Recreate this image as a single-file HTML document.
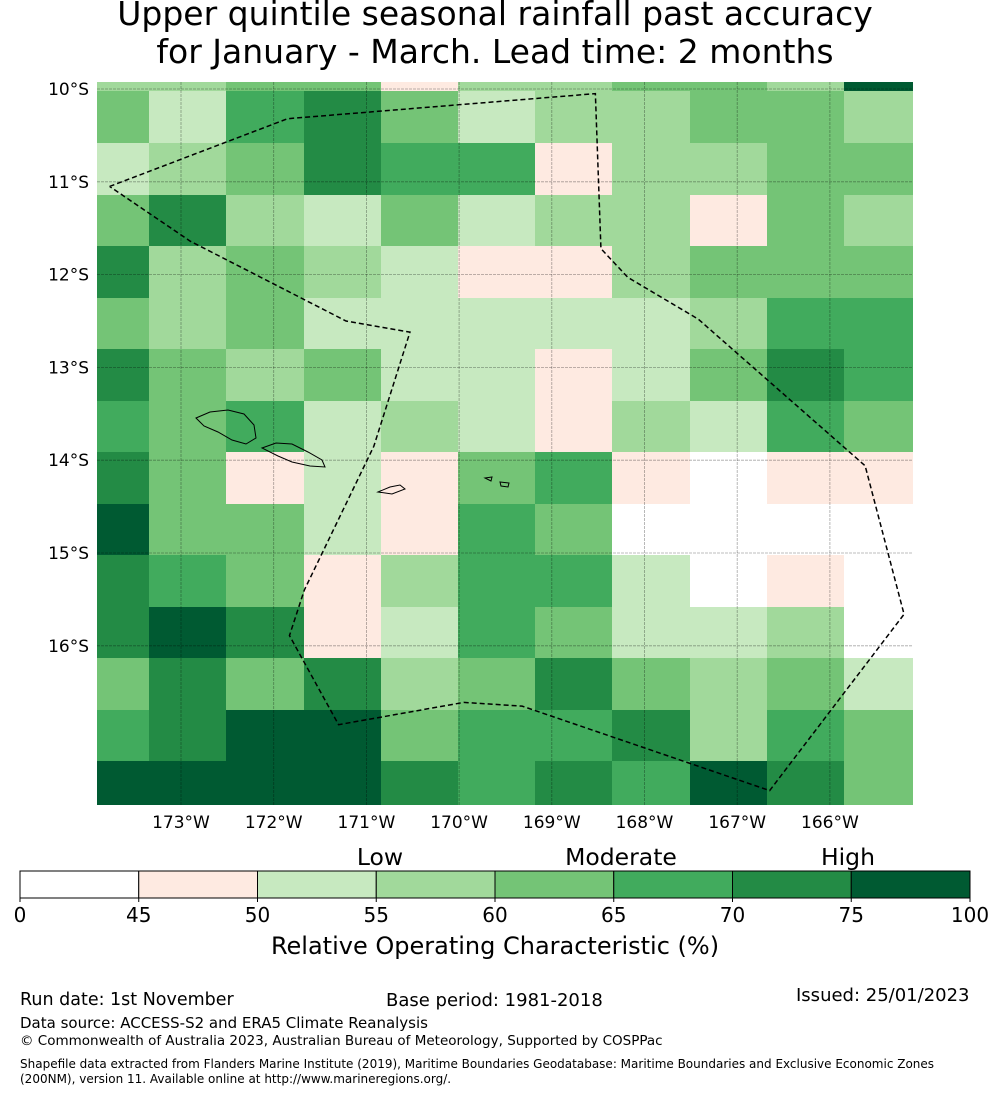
<!DOCTYPE html>
<html><head><meta charset="utf-8"><style>
body{margin:0;background:#fff;font-family:"DejaVu Sans","Liberation Sans",sans-serif;}
#wrap{position:relative;width:990px;height:1095px;overflow:hidden}
.t{position:absolute;white-space:nowrap;color:#000}
</style></head><body><div id="wrap">
<div class="t" style="left:0;width:990px;top:-5px;text-align:center;font-size:33px;line-height:38px">Upper quintile seasonal rainfall past accuracy<br>for January - March. Lead time: 2 months</div>
<svg id="svg" width="990" height="1095" style="position:absolute;left:0;top:0"></svg>
<div class="t" style="left:20px;top:990px;font-size:17.5px">Run date: 1st November</div>
<div class="t" style="left:386px;top:990px;font-size:18px">Base period: 1981-2018</div>
<div class="t" style="left:796px;top:985px;font-size:18px">Issued: 25/01/2023</div>
<div class="t" style="left:20px;top:1014px;font-size:15px">Data source: ACCESS-S2 and ERA5 Climate Reanalysis</div>
<div class="t" style="left:20px;top:1033px;font-size:13.5px">© Commonwealth of Australia 2023, Australian Bureau of Meteorology, Supported by COSPPac</div>
<div class="t" style="left:20px;top:1057px;font-size:12px;line-height:15px">Shapefile data extracted from Flanders Marine Institute (2019), Maritime Boundaries Geodatabase: Maritime Boundaries and Exclusive Economic Zones<br>(200NM), version 11. Available online at http://www.marineregions.org/.</div>
</div>
<script>
const colBounds=[97,149,226,304,381,458,535,612,690,767,844,913];
const rowBounds=[82,91,143,195,246,298,349,401,452,504,555,607,658,710,761,805];
const rocRows=[
[57,57,62,62,47,57,57,62,62,57,80],
[62,52,67,72,62,52,57,57,62,62,57],
[52,57,62,72,67,67,47,57,57,62,62],
[62,72,57,52,62,52,57,57,47,62,57],
[72,57,62,57,52,47,47,57,62,62,62],
[62,57,62,52,52,52,52,52,57,67,67],
[72,62,57,62,52,52,47,52,62,72,67],
[67,62,67,52,57,52,47,57,52,67,62],
[72,62,47,52,47,62,67,47,40,47,47],
[80,62,62,52,47,67,62,40,40,40,40],
[72,67,62,47,57,67,67,52,40,47,40],
[72,80,72,47,52,67,62,52,52,57,40],
[62,72,62,72,57,62,72,62,57,62,52],
[67,72,80,80,62,67,67,72,57,67,62],
[80,80,80,80,72,67,72,67,80,72,62]];
const classEdges=[0,45,50,55,60,65,70,75,100];
const classColors=["#ffffff","#feeae1","#c7e9c0","#a1d99b","#74c476","#41ab5d","#238b45","#005a32"];
const cbTicks=["0","45","50","55","60","65","70","75","100"];
const lonLabels=["173°W","172°W","171°W","170°W","169°W","168°W","167°W","166°W"];
const lonVals=[-173,-172,-171,-170,-169,-168,-167,-166];
const latLabels=["10°S","11°S","12°S","13°S","14°S","15°S","16°S"];
const latVals=[-10,-11,-12,-13,-14,-15,-16];
const eezLon=[-173.77,-171.85,-168.53,-168.47,-168.18,-167.42,-165.62,-165.2,-166.65,-169.32,-169.95,-171.3,-171.83,-171.67,-170.92,-170.53,-171.22,-172.9,-173.77];
const eezLat=[-11.05,-10.32,-10.05,-11.72,-12.03,-12.48,-14.06,-15.66,-17.56,-16.65,-16.61,-16.85,-15.89,-15.4,-13.85,-12.62,-12.5,-11.64,-11.05];
const NS="http://www.w3.org/2000/svg";
const FF="DejaVu Sans, Liberation Sans, sans-serif";
const svg=document.getElementById('svg');
const xOf=lon=>181+(lon+173)*92.7;
const yOf=lat=>89+(-10-lat)*92.8;
function cls(v){for(let i=classEdges.length-2;i>=0;i--){if(v>=classEdges[i])return i;}return 0;}
function mk(tag,attrs){const e=document.createElementNS(NS,tag);for(const k in attrs)e.setAttribute(k,attrs[k]);svg.appendChild(e);return e;}
rocRows.forEach((row,r)=>row.forEach((v,c)=>{
 const e=mk('rect',{x:colBounds[c],y:rowBounds[r],width:colBounds[c+1]-colBounds[c],height:rowBounds[r+1]-rowBounds[r],fill:classColors[cls(v)]});
 
 
}));
lonVals.forEach((lon,i)=>{
 const x=xOf(lon);
 const l=mk('line',{x1:x,x2:x,y1:82,y2:805,stroke:'#000','stroke-opacity':0.35,'stroke-width':0.8,'stroke-dasharray':'3,1'});
 
 
 const t=mk('text',{x:x,y:828,'font-size':17,'text-anchor':'middle','font-family':FF});
 t.textContent=lonLabels[i];
 
 
});
latVals.forEach((lat,i)=>{
 const y=yOf(lat);
 const l=mk('line',{x1:97,x2:913,y1:y,y2:y,stroke:'#000','stroke-opacity':0.35,'stroke-width':0.8,'stroke-dasharray':'3,1'});
 
 
 const t=mk('text',{x:89,y:y+6,'font-size':17,'text-anchor':'end','font-family':FF});
 t.textContent=latLabels[i];
 
 
});
const eez=mk('polyline',{points:eezLon.map((lo,i)=>xOf(lo)+','+yOf(eezLat[i])).join(' '),fill:'none',stroke:'#000','stroke-width':1.5,'stroke-dasharray':'5,3'});


const islands=["M196,418 L210,412 L228,410 L244,414 L254,425 L256,438 L246,444 L232,440 L218,432 L204,426 Z","M262,448 L276,443 L292,444 L308,452 L322,460 L325,467 L310,466 L292,462 L278,456 Z","M378,492 L390,487 L400,485 L405,489 L392,494 Z","M485,478 L492,477 L491,481 Z","M500,482 L509,483 L508,487 L501,486 Z"];
islands.forEach(d=>{const p=mk('path',{d:d,fill:'none',stroke:'#000','stroke-width':1});
 
 });
const cbX=v=>{const i=classEdges.indexOf(v);return 20+i*118.75;};
for(let i=0;i<classColors.length;i++){
 const r=mk('rect',{x:cbX(classEdges[i]),y:871,width:cbX(classEdges[i+1])-cbX(classEdges[i]),height:27,fill:classColors[i],stroke:'#000','stroke-width':1});
 
 
}
cbTicks.forEach((lab,i)=>{
 const x=cbX(classEdges[i]);
 const tk=mk('line',{x1:x,x2:x,y1:898,y2:902,stroke:'#000'});
 
 
 const t=mk('text',{x:x,y:922,'font-size':20,'text-anchor':'middle','font-family':FF});
 t.textContent=lab;
 
 
});
[["Low",380],["Moderate",621],["High",848]].forEach(a=>{
 const t=mk('text',{x:a[1],y:865,'font-size':23.5,'text-anchor':'middle','font-family':FF});
 t.textContent=a[0];
 
 
});
const ct=mk('text',{x:495,y:954,'font-size':24,'text-anchor':'middle','font-family':FF});
ct.textContent="Relative Operating Characteristic (%)";


</script></body></html>
